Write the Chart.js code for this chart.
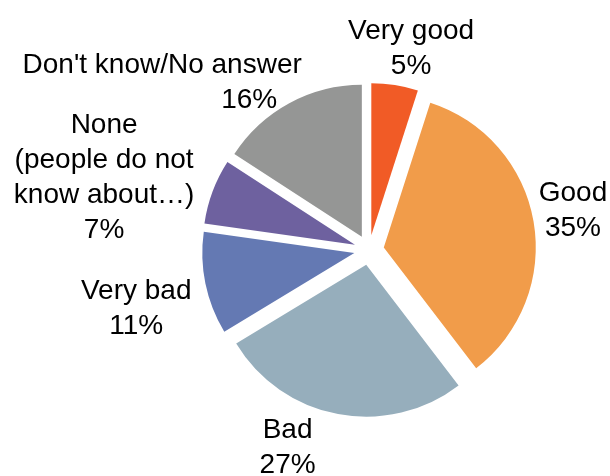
<!DOCTYPE html>
<html>
<head>
<meta charset="utf-8">
<script src="https://cdn.jsdelivr.net/npm/chart.js@4.4.0/dist/chart.umd.min.js"></script>
<style>
  html, body { margin: 0; padding: 0; background: #fff; }
</style>
</head>
<body>
<canvas id="pieChart" width="610" height="476"></canvas>
<script>
// data
const categories = ["Very good", "Good", "Bad", "Very bad", "None (people do not know about…)", "Don't know/No answer"];
const labelLines = [["Very good"], ["Good"], ["Bad"], ["Very bad"], ["None", "(people do not", "know about…)"], ["Don't know/No answer"]];
const shares = [5, 35, 27, 11, 7, 16];
const sliceColors = ["#F15B26", "#F19C4A", "#96AEBC", "#6479B3", "#6E619F", "#959695"];

// styling
const EXPLODE = 15;
const FONT = "28px 'Liberation Sans', Arial, sans-serif";
const LINE_H = 35;
const CAP_H = 20;
const LABEL_GAP = 40;
// small nudges so labels sit where the original put them
const labelNudge = [
    { dx: 10, dy: 1 },
    { dx: 0, dy: -6 },
    { dx: -43, dy: -8 },
    { dx: -30, dy: 15 },
    { dx: -71, dy: -2 },
    { dx: -108, dy: 12, lineDx: [0, 87] }
];

// pull every slice out along its middle angle
const explodePlugin = {
    id: "explode",
    beforeDatasetsDraw(chart) {
        chart.getDatasetMeta(0).data.forEach(arc => {
            if (arc._exploded) return
            const origDraw = arc.draw
            arc.draw = function (ctx, area) {
                const mid = (this.startAngle + this.endAngle) / 2
                ctx.save()
                ctx.translate(Math.cos(mid) * EXPLODE, Math.sin(mid) * EXPLODE)
                origDraw.call(this, ctx, area)
                ctx.restore()
            }
            arc._exploded = true
        })
    }
};

const sliceLabels = {
    id: "sliceLabels",
    afterDatasetsDraw(chart) {
        const ctx = chart.ctx
        ctx.save()
        ctx.font = FONT
        ctx.fillStyle = "#000"
        ctx.textAlign = "center"
        ctx.textBaseline = "alphabetic"
        chart.getDatasetMeta(0).data.forEach((arc, i) => {
            const mid = (arc.startAngle + arc.endAngle) / 2
            const r = arc.outerRadius + EXPLODE + LABEL_GAP
            const nudge = labelNudge[i] || {}
            const cx = arc.x + Math.cos(mid) * r + (nudge.dx || 0)
            const cy = arc.y + Math.sin(mid) * r + (nudge.dy || 0)
            const lines = labelLines[i].concat([shares[i] + "%"])
            const blockH = CAP_H + (lines.length - 1) * LINE_H
            const firstBase = cy - blockH / 2 + CAP_H
            lines.forEach((txt, j) => {
                const ldx = nudge.lineDx ? (nudge.lineDx[j] || 0) : 0
                ctx.fillText(txt, cx + ldx, firstBase + j * LINE_H)
            })
        })
        ctx.restore()
    }
};

new Chart(document.getElementById("pieChart").getContext("2d"), {
    type: "pie",
    data: {
        labels: categories,
        datasets: [{
            data: shares,
            backgroundColor: sliceColors,
            borderWidth: 0
        }]
    },
    options: {
        responsive: false,
        animation: false,
        events: [],
        radius: 152,
        layout: { padding: { left: 128, right: 0, top: 24, bottom: 0 } },
        plugins: {
            legend: { display: false },
            tooltip: { enabled: false }
        }
    },
    plugins: [explodePlugin, sliceLabels]
});
</script>
</body>
</html>
